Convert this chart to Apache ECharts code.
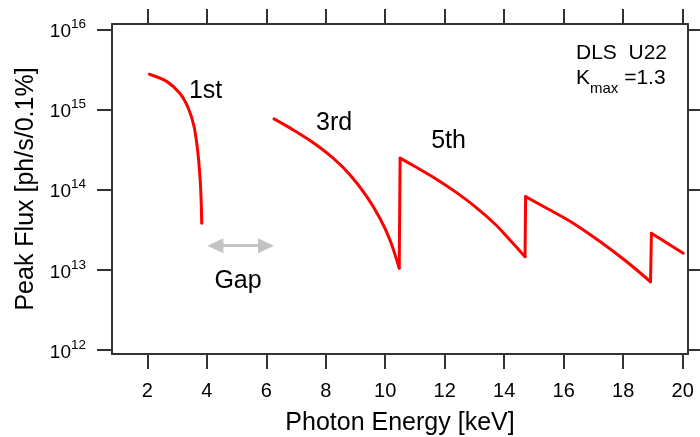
<!DOCTYPE html>
<html>
<head>
<meta charset="utf-8">
<title>DLS U22 peak flux</title>
<script src="https://cdn.jsdelivr.net/npm/echarts@6/dist/echarts.min.js"></script>
<style>
  html, body { margin: 0; padding: 0; background: #fff; }
  #chart { width: 700px; height: 437px; }
</style>
</head>
<body>
<div id="chart"></div>
<script>
// Photon energy [keV] and peak flux [ph/s/0.1%] for each harmonic
const energy1 = [2.07, 2.65, 3.10, 3.38, 3.57, 3.69, 3.77, 3.81, 3.83];
const flux1   = [2.75e15, 2.24e15, 1.58e15, 1.035e15, 6.17e14, 3.13e14, 1.45e14, 7.4e13, 3.8e13];

const energy3 = [6.26, 6.91, 7.58, 8.25, 8.82, 9.38, 9.82, 10.16, 10.47];
const flux3   = [7.62e14, 5.55e14, 3.85e14, 2.47e14, 1.52e14, 8.18e13, 4.40e13, 2.36e13, 1.05e13];

const energy5 = [10.50, 11.00, 11.67, 12.35, 13.02, 13.69, 14.14, 14.70];
const flux5   = [2.47e14, 1.94e14, 1.39e14, 9.44e13, 6.14e13, 3.73e13, 2.48e13, 1.46e13];

const energy7 = [14.72, 15.43, 16.32, 17.22, 18.12, 18.92];
const flux7   = [8.18e13, 5.86e13, 3.81e13, 2.25e13, 1.26e13, 7.1e12];

const energy9 = [18.95, 20.02];
const flux9   = [2.86e13, 1.61e13];

// Axis ticks
const xTicks = [2, 4, 6, 8, 10, 12, 14, 16, 18, 20];
const yTicks = [1e12, 1e13, 1e14, 1e15, 1e16];

// Harmonic labels: text, energy, flux
const harmonicNames  = ['1st', '3rd', '5th'];
const harmonicEnergy = [3.96, 8.28, 12.13];
const harmonicFlux   = [1.7e15, 6.8e14, 4.05e14];

// Gap-limited region: arrow ends (shaft centre points) and its label
const gapLabel = 'Gap';
const gapArrowEnergy = [4.29, 5.99];
const gapArrowFlux = 2.0e13;
const gapLabelEnergy = 5.05;
const gapLabelFlux = 7.3e12;

const FONT = '"Liberation Sans", Arial, Helvetica, sans-serif';
const INK = '#000';
const FRAME = '#333';
const RED = '#ff0000';

const zip = (xs, ys) => xs.map((x, i) => [x, ys[i]]);

// Each harmonic is a smooth curve; at the switch-over energy the flux jumps
// vertically from the end of one harmonic to the start of the next.
const harmonics = [
  zip(energy1, flux1),
  zip(energy3, flux3),
  zip(energy5, flux5),
  zip(energy7, flux7),
  zip(energy9, flux9)
];
const jumps = [];
for (let i = 1; i < harmonics.length - 1; i++) {
  const a = harmonics[i], b = harmonics[i + 1];
  jumps.push([a[a.length - 1], b[0]]);
}

const xMin = 0.813, xMax = 20.18;
const yMin = Math.pow(10, 11.95), yMax = Math.pow(10, 16.066);

const tickStyle = { show: true, inside: false, length: 15, lineStyle: { color: FRAME, width: 2 } };
const lineStyle = { show: true, lineStyle: { color: FRAME, width: 2 } };

const curveSeries = harmonics.map((pts, i) => ({
  name: 'harmonic ' + (2 * i + 1), type: 'line', xAxisIndex: 0, yAxisIndex: 0,
  data: pts, showSymbol: false, symbol: 'none',
  smooth: 0.3,
  lineStyle: { color: RED, width: 3, cap: 'round', join: 'round' }, silent: true
}));
const jumpSeries = jumps.map((pts, i) => ({
  name: 'jump ' + i, type: 'line', xAxisIndex: 0, yAxisIndex: 0,
  data: pts, showSymbol: false, symbol: 'none',
  lineStyle: { color: RED, width: 3, cap: 'round' }, silent: true
}));

const chart = echarts.init(document.getElementById('chart'), null, { renderer: 'canvas' });

chart.setOption({
  animation: false,
  backgroundColor: '#fff',
  textStyle: { fontFamily: FONT, color: INK },
  grid: { left: 112, top: 24, width: 576, height: 330, outerBoundsMode: 'none', containLabel: false },
  xAxis: [
    {
      type: 'value', position: 'bottom', min: xMin, max: xMax,
      axisLine: lineStyle,
      axisTick: Object.assign({ customValues: xTicks }, tickStyle),
      axisLabel: { customValues: xTicks, margin: 27, fontSize: 20, color: INK, fontFamily: FONT },
      splitLine: { show: false },
      name: 'Photon Energy [keV]', nameLocation: 'middle', nameGap: 57,
      nameTextStyle: { fontSize: 25, color: INK, fontFamily: FONT }
    },
    {
      type: 'value', position: 'top', min: xMin, max: xMax,
      axisLine: lineStyle,
      axisTick: Object.assign({ customValues: xTicks }, tickStyle),
      axisLabel: { show: false },
      splitLine: { show: false }
    }
  ],
  yAxis: [
    {
      type: 'log', logBase: 10, position: 'left', min: yMin, max: yMax,
      axisLine: lineStyle,
      axisTick: Object.assign({ customValues: yTicks }, tickStyle),
      axisLabel: {
        customValues: yTicks, margin: 26, color: INK, fontFamily: FONT,
        formatter: v => '{b|10}{s|' + Math.round(Math.log10(v)) + '}',
        rich: {
          b: { fontSize: 19, fontFamily: FONT, color: INK, lineHeight: 24, verticalAlign: 'bottom' },
          s: { fontSize: 13.5, fontFamily: FONT, color: INK, lineHeight: 24, verticalAlign: 'top' }
        }
      },
      splitLine: { show: false },
      minorTick: { show: false },
      name: 'Peak Flux [ph/s/0.1%]', nameLocation: 'middle', nameGap: 71,
      nameTextStyle: { fontSize: 25, color: INK, fontFamily: FONT }
    },
    {
      type: 'log', logBase: 10, position: 'right', min: yMin, max: yMax,
      axisLine: lineStyle,
      axisTick: Object.assign({ customValues: yTicks }, tickStyle),
      axisLabel: { show: false },
      splitLine: { show: false }
    }
  ],
  series: curveSeries.concat(jumpSeries).concat([
    {
      name: 'gap arrow', type: 'line', xAxisIndex: 0, yAxisIndex: 0,
      data: [], silent: true,
      markLine: {
        silent: true, animation: false,
        symbol: ['triangle', 'triangle'], symbolSize: [15, 16],
        lineStyle: { color: '#c3c3c3', width: 3, type: 'solid', opacity: 1 },
        label: { show: false },
        emphasis: { disabled: true },
        data: [[
          { coord: [gapArrowEnergy[0], gapArrowFlux] },
          { coord: [gapArrowEnergy[1], gapArrowFlux] }
        ]]
      }
    },
    {
      name: 'labels', type: 'scatter', xAxisIndex: 0, yAxisIndex: 0,
      symbolSize: 0, silent: true,
      itemStyle: { opacity: 1 },
      data: harmonicNames.map((n, i) => ({ value: [harmonicEnergy[i], harmonicFlux[i]], name: n }))
        .concat([{ value: [gapLabelEnergy, gapLabelFlux], name: gapLabel }]),
      label: {
        show: true, position: 'inside', formatter: p => p.name,
        fontSize: 25, color: INK, fontFamily: FONT, opacity: 1
      }
    }
  ]),
  graphic: [
    {
      type: 'text', left: 576, top: 43, silent: true,
      style: {
        text: '{a|DLS  U22}\n{a|K}{sub|max}{a| =1.3}',
        fontFamily: FONT,
        rich: {
          a: { fontSize: 21, fontFamily: FONT, fill: INK, color: INK, lineHeight: 25, verticalAlign: 'bottom' },
          sub: { fontSize: 15, fontFamily: FONT, fill: INK, color: INK, lineHeight: 25, verticalAlign: 'bottom', padding: [0, 0, -7, 0] }
        }
      }
    }
  ]
});
</script>
</body>
</html>
